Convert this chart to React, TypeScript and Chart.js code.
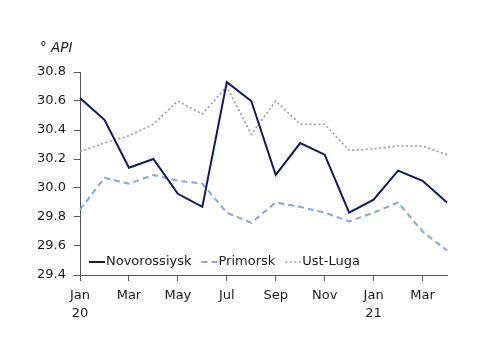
import React, { useEffect, useRef } from "react";
import { Chart, registerables } from "chart.js";

Chart.register(...registerables);

const months = ["Jan", "Feb", "Mar", "Apr", "May", "Jun", "Jul", "Aug", "Sep", "Oct", "Nov", "Dec", "Jan", "Feb", "Mar", "Apr"];
const years = ["20", "", "", "", "", "", "", "", "", "", "", "", "21", "", "", ""];

const novorossiysk = [30.62, 30.47, 30.14, 30.2, 29.96, 29.87, 30.73, 30.6, 30.09, 30.31, 30.23, 29.83, 29.92, 30.12, 30.05, 29.9];
const primorsk = [29.85, 30.07, 30.03, 30.09, 30.05, 30.03, 29.83, 29.76, 29.9, 29.87, 29.83, 29.77, 29.83, 29.9, 29.7, 29.57];
const ustLuga = [30.25, 30.31, 30.36, 30.44, 30.6, 30.51, 30.7, 30.37, 30.6, 30.44, 30.44, 30.26, 30.27, 30.29, 30.29, 30.23];

const seriesNames = ["Novorossiysk", "Primorsk", "Ust-Luga"];
const unitLabel = "° API";

const FONT = "DejaVu Sans";
const TEXT = "#1a1a1a";
const AXIS = "#555555";

const overlayPlugin = {
  id: "overlay",
  afterDraw(chart: any) {
    const ctx = chart.ctx;
    const area = chart.chartArea;
    ctx.save();
    ctx.fillStyle = TEXT;
    ctx.font = `italic 13.5px '${FONT}'`;
    ctx.textBaseline = "middle";
    ctx.textAlign = "left";
    ctx.fillText(unitLabel, 40, 48);

    ctx.font = `13px '${FONT}'`;
    let x = area.left + 9;
    const y = area.bottom - 13;
    chart.data.datasets.forEach((ds: any) => {
      ctx.save();
      ctx.strokeStyle = ds.borderColor;
      ctx.lineWidth = ds.borderWidth;
      ctx.setLineDash(ds.borderDash || []);
      ctx.beginPath();
      ctx.moveTo(x, y);
      ctx.lineTo(x + 16, y);
      ctx.stroke();
      ctx.restore();
      x += 17;
      ctx.fillStyle = TEXT;
      ctx.fillText(ds.label, x, y);
      x += ctx.measureText(ds.label).width + 10;
    });
    ctx.restore();
  },
};

export default function App() {
  const ref = useRef<HTMLCanvasElement>(null);
  useEffect(() => {
    if (!ref.current) return;
    const chart = new Chart(ref.current, {
      type: "line",
      data: {
        labels: months.map((m, i) => (years[i] ? [m, years[i]] : m)),
        datasets: [
          { label: seriesNames[0], data: novorossiysk, borderColor: "#0b1a66", borderWidth: 2, pointRadius: 0, tension: 0, fill: false },
          { label: seriesNames[1], data: primorsk, borderColor: "#7ea6e8", borderWidth: 2, borderDash: [6, 4], pointRadius: 0, tension: 0, fill: false },
          { label: seriesNames[2], data: ustLuga, borderColor: "#9a9a9a", borderWidth: 1.6, borderDash: [2, 2.5], pointRadius: 0, tension: 0, fill: false },
        ],
      },
      options: {
        animation: false,
        responsive: false,
        maintainAspectRatio: false,
        layout: { padding: { left: 0, right: 53, top: 72, bottom: 0 } },
        plugins: { legend: { display: false }, tooltip: { enabled: false }, title: { display: false } },
        scales: {
          x: {
            type: "category",
            offset: false,
            afterFit: (s: any) => { s.height = 78; },
            grid: { drawOnChartArea: false, drawTicks: true, tickLength: 6, color: AXIS },
            border: { display: true, color: AXIS, width: 1 },
            ticks: {
              autoSkip: false,
              maxRotation: 0,
              padding: 6,
              color: TEXT,
              font: { family: FONT, size: 13, lineHeight: 1.35 },
              callback: function (this: any, _v: any, i: number) {
                if (i % 2 !== 0) return null;
                return years[i] ? [months[i], years[i]] : months[i];
              },
            },
          },
          y: {
            min: 29.4,
            max: 30.8,
            afterFit: (s: any) => { s.width = 80; },
            grid: { drawOnChartArea: false, drawTicks: true, tickLength: 6, color: AXIS },
            border: { display: true, color: AXIS, width: 1 },
            ticks: {
              stepSize: 0.2,
              padding: 8,
              color: TEXT,
              font: { family: FONT, size: 13 },
              callback: (v: any) => Number(v).toFixed(1),
            },
          },
        },
      },
      plugins: [overlayPlugin],
    } as any);
    return () => chart.destroy();
  }, []);
  return (
    <div style={{ position: "absolute", left: 0, top: 0, width: 500, height: 353, background: "#fff" }}>
      <canvas ref={ref} width={500} height={353} style={{ width: 500, height: 353 }} />
    </div>
  );
}
